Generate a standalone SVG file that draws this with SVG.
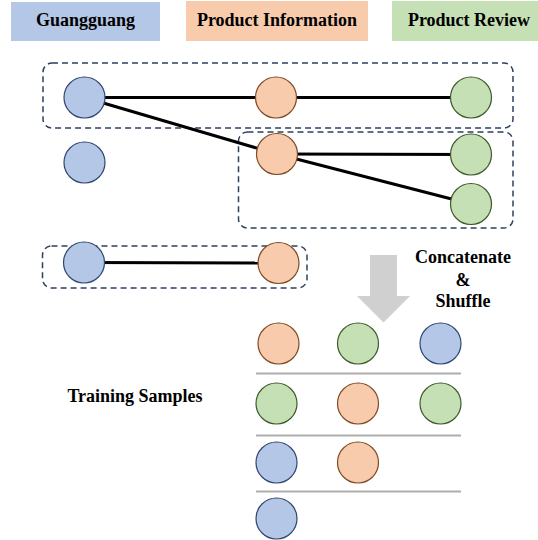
<svg xmlns="http://www.w3.org/2000/svg" width="538" height="540" viewBox="0 0 538 540">
<style>
.lbl{font-family:"Liberation Serif","Times New Roman",serif;font-weight:bold;font-size:18px;fill:#000}
.b{fill:#B4C7E7;stroke:#2F4670;stroke-width:1.2}
.o{fill:#F8CBAD;stroke:#7F4A26;stroke-width:1.2}
.g{fill:#C5E0B4;stroke:#3D5A2A;stroke-width:1.2}
.grp{fill:none;stroke:#2E3F5E;stroke-width:1.5;stroke-dasharray:6 4}
.e{stroke:#000;stroke-width:3;fill:none}
.sep{stroke:#AEAEAE;stroke-width:2}
</style>
<rect width="538" height="540" fill="#fff"/>
<g id="legend">
<g id="legend-guangguang"><rect x="11" y="2" width="149" height="39" fill="#B4C7E7"/><text class="lbl" x="85.5" y="26" text-anchor="middle">Guangguang</text></g>
<g id="legend-product-information"><rect x="186" y="1" width="182" height="40" fill="#F8CBAD"/><text class="lbl" x="277" y="26" text-anchor="middle">Product Information</text></g>
<g id="legend-product-review"><rect x="392" y="1" width="146" height="40" fill="#C5E0B4"/><text class="lbl" x="469" y="26" text-anchor="middle">Product Review</text></g>
</g>
<g id="groups">
<rect class="grp" x="43" y="63" width="470" height="65" rx="9"/>
<rect class="grp" x="238.5" y="132" width="274.5" height="96" rx="9"/>
<rect class="grp" x="42.5" y="246" width="264.5" height="42" rx="9"/>
</g>
<g id="connectors">
<line class="e" x1="84.5" y1="97.5" x2="276" y2="97.5"/>
<line class="e" x1="276" y1="97.5" x2="471" y2="97.5"/>
<line class="e" x1="84.5" y1="97.5" x2="277" y2="154"/>
<line class="e" x1="277" y1="154" x2="471" y2="154.5"/>
<line class="e" x1="277" y1="154" x2="471" y2="204"/>
<line class="e" x1="84" y1="262.5" x2="278.5" y2="263"/>
</g>
<g id="nodes">
<circle id="g1" class="b" cx="84.5" cy="97.5" r="20.5"/>
<circle id="p1" class="o" cx="276" cy="97.5" r="20.5"/>
<circle id="r1" class="g" cx="471" cy="97.5" r="20.5"/>
<circle id="g2" class="b" cx="84.5" cy="162.5" r="20.5"/>
<circle id="p2" class="o" cx="277" cy="154" r="20.5"/>
<circle id="r2" class="g" cx="471" cy="154.5" r="20.5"/>
<circle id="r3" class="g" cx="471" cy="204" r="20.5"/>
<circle id="g3" class="b" cx="84" cy="262.5" r="20.5"/>
<circle id="p3" class="o" cx="278.5" cy="263" r="20.5"/>
</g>
<g id="arrow">
<polygon points="370,255 397,255 397,296 410,296 383.5,322.5 357,296 370,296" fill="#D0D0D0"/>
<text class="lbl" x="463" y="263" text-anchor="middle">Concatenate</text>
<text class="lbl" x="463" y="285.5" text-anchor="middle">&amp;</text>
<text class="lbl" x="463" y="306.5" text-anchor="middle">Shuffle</text>
</g>
<g id="training-samples">
<text class="lbl" x="135" y="402" text-anchor="middle">Training Samples</text>
<line class="sep" x1="256" y1="373.5" x2="461" y2="373.5"/>
<line class="sep" x1="256" y1="435.5" x2="461" y2="435.5"/>
<line class="sep" x1="256" y1="491.5" x2="461" y2="491.5"/>
<circle class="o" cx="278.5" cy="343.5" r="20.5"/>
<circle class="g" cx="358" cy="343.5" r="20.5"/>
<circle class="b" cx="440.5" cy="343.5" r="20.5"/>
<circle class="g" cx="276.5" cy="403.5" r="20.5"/>
<circle class="o" cx="358" cy="403.5" r="20.5"/>
<circle class="g" cx="440.5" cy="403.5" r="20.5"/>
<circle class="b" cx="276.5" cy="462.5" r="20.5"/>
<circle class="o" cx="358" cy="462.5" r="20.5"/>
<circle class="b" cx="276.5" cy="518.5" r="20.5"/>
</g>
</svg>
